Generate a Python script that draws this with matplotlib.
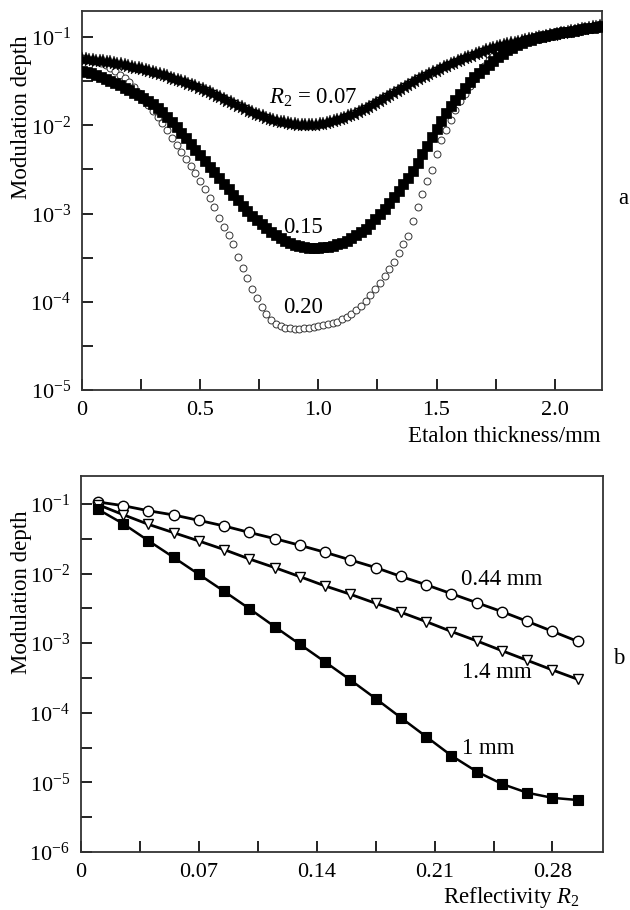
import numpy as np
import matplotlib
matplotlib.use("Agg")
import matplotlib.pyplot as plt
from matplotlib.ticker import FixedLocator, NullFormatter

plt.rcParams['font.family'] = ['Liberation Serif', 'DejaVu Serif']
plt.rcParams['mathtext.fontset'] = 'custom'
plt.rcParams['mathtext.rm'] = 'Liberation Serif'
plt.rcParams['mathtext.it'] = 'Liberation Serif:italic'

# ---------------- Panel a data (log10 of modulation depth) -------------
thickness_mm = np.round(np.arange(0, 2.2001, 0.02), 3)        # grid of R2=0.15 and 0.20 points
thickness_mm_r007 = np.round(np.arange(0, 2.1901, 0.015), 3)  # grid of R2=0.07 points

log_depth_r007 = [
    -1.250, -1.254, -1.258, -1.262, -1.266, -1.271, -1.277, -1.282, -1.288, -1.295,
    -1.302, -1.310, -1.318, -1.327, -1.337, -1.346, -1.356, -1.367, -1.378, -1.389,
    -1.400, -1.411, -1.423, -1.435, -1.447, -1.459, -1.472, -1.485, -1.499, -1.513,
    -1.528, -1.543, -1.559, -1.575, -1.592, -1.609, -1.627, -1.645, -1.663, -1.681,
    -1.700, -1.720, -1.739, -1.759, -1.778, -1.798, -1.817, -1.836, -1.853, -1.870,
    -1.885, -1.900, -1.913, -1.926, -1.938, -1.948, -1.958, -1.967, -1.975, -1.982,
    -1.988, -1.993, -1.996, -1.998, -1.999, -1.997, -1.993, -1.988, -1.981, -1.972,
    -1.962, -1.951, -1.940, -1.929, -1.915, -1.900, -1.884, -1.867, -1.849, -1.830,
    -1.810, -1.788, -1.766, -1.743, -1.721, -1.698, -1.675, -1.653, -1.630, -1.608,
    -1.585, -1.563, -1.540, -1.518, -1.497, -1.476, -1.456, -1.437, -1.418, -1.399,
    -1.380, -1.361, -1.343, -1.325, -1.307, -1.290, -1.273, -1.257, -1.241, -1.225,
    -1.210, -1.195, -1.180, -1.166, -1.152, -1.139, -1.126, -1.114, -1.103, -1.092,
    -1.081, -1.071, -1.062, -1.052, -1.043, -1.035, -1.027, -1.019, -1.011, -1.004,
    -0.996, -0.989, -0.981, -0.974, -0.966, -0.959, -0.951, -0.944, -0.936, -0.929,
    -0.921, -0.914, -0.906, -0.899, -0.891, -0.884, -0.877]

log_depth_r015 = [
    -1.390, -1.400, -1.412, -1.428, -1.448, -1.470, -1.494, -1.519, -1.545, -1.572,
    -1.600, -1.629, -1.659, -1.691, -1.725, -1.760, -1.805, -1.853, -1.907, -1.962,
    -2.020, -2.082, -2.145, -2.210, -2.275, -2.340, -2.404, -2.468, -2.532, -2.596,
    -2.660, -2.724, -2.788, -2.852, -2.916, -2.975, -3.028, -3.077, -3.124, -3.168,
    -3.210, -3.248, -3.282, -3.312, -3.336, -3.355, -3.370, -3.381, -3.388, -3.391,
    -3.390, -3.385, -3.376, -3.364, -3.348, -3.330, -3.306, -3.278, -3.246, -3.210,
    -3.170, -3.120, -3.066, -3.008, -2.946, -2.880, -2.812, -2.742, -2.668, -2.595,
    -2.520, -2.430, -2.330, -2.230, -2.130, -2.040, -1.950, -1.865, -1.785, -1.710,
    -1.640, -1.575, -1.515, -1.458, -1.406, -1.358, -1.312, -1.268, -1.226, -1.188,
    -1.152, -1.120, -1.092, -1.068, -1.048, -1.030, -1.015, -1.002, -0.990, -0.979,
    -0.968, -0.958, -0.948, -0.938, -0.929, -0.920, -0.911, -0.902, -0.893, -0.884,
    -0.875]

log_depth_r020 = [
    -1.240, -1.248, -1.258, -1.272, -1.292, -1.318, -1.350, -1.386, -1.425, -1.467,
    -1.515, -1.570, -1.637, -1.710, -1.775, -1.840, -1.905, -1.975, -2.055, -2.140,
    -2.225, -2.305, -2.380, -2.460, -2.545, -2.630, -2.725, -2.825, -2.930, -3.050,
    -3.150, -3.240, -3.350, -3.490, -3.620, -3.730, -3.860, -3.960, -4.060, -4.140,
    -4.210, -4.255, -4.280, -4.295, -4.302, -4.305, -4.304, -4.301, -4.296, -4.289,
    -4.280, -4.268, -4.255, -4.242, -4.225, -4.200, -4.168, -4.135, -4.095, -4.050,
    -3.990, -3.925, -3.860, -3.785, -3.710, -3.630, -3.545, -3.450, -3.350, -3.250,
    -3.080, -2.930, -2.780, -2.630, -2.510, -2.330, -2.170, -2.050, -1.940, -1.830,
    -1.730, -1.640, -1.550, -1.470, -1.395, -1.325, -1.265, -1.212, -1.165, -1.125,
    -1.092, -1.067, -1.048, -1.032, -1.018, -1.006, -0.995, -0.985, -0.975, -0.965,
    -0.955, -0.946, -0.937, -0.928, -0.919, -0.910, -0.901, -0.892, -0.883, -0.874,
    -0.865]

# ---------------- Panel b data -------------
reflectivity = [0.010, 0.025, 0.040, 0.055, 0.070, 0.085, 0.100, 0.115, 0.130, 0.145,
                0.160, 0.175, 0.190, 0.205, 0.220, 0.235, 0.250, 0.265, 0.280, 0.295]
depth_044mm = [0.107, 0.0946, 0.080, 0.0695, 0.0582, 0.0483, 0.039, 0.0318, 0.0255, 0.0202,
               0.0157, 0.0122, 0.0091, 0.0069, 0.00514, 0.00382, 0.00284, 0.00206, 0.00148, 0.00106]
depth_14mm = [0.098, 0.0703, 0.051, 0.0387, 0.0294, 0.0221, 0.0162, 0.0122, 0.00903, 0.00664,
              0.00504, 0.00374, 0.00278, 0.00204, 0.00147, 0.00108, 0.00078, 0.000567, 0.000412, 0.000303]
depth_1mm = [0.084, 0.0521, 0.0297, 0.0171, 0.00975, 0.00556, 0.00313, 0.00173, 0.000964, 0.000537,
             0.000296, 0.00016, 8.5e-5, 4.54e-5, 2.42e-5, 1.43e-5, 9.5e-6, 7.1e-6, 6.0e-6, 5.58e-6]

xticks_a = [0, 0.5, 1.0, 1.5, 2.0]
xtick_labels_a = ['0', '0.5', '1.0', '1.5', '2.0']
xticks_b = [0, 0.07, 0.14, 0.21, 0.28]
xtick_labels_b = ['0', '0.07', '0.14', '0.21', '0.28']

W, H = 630, 910
fig = plt.figure(figsize=(W / 100, H / 100), dpi=100)

def fr(x0, y0, x1, y1):
    return [x0 / W, 1 - y1 / H, (x1 - x0) / W, (y1 - y0) / H]

ax1 = fig.add_axes(fr(82, 11, 602, 390))
ax2 = fig.add_axes(fr(81, 476, 603, 852))

TICK_FS = 16
LAB_FS = 16.5

def style(ax, yexp_lo, yexp_hi):
    ax.set_yscale('log')
    majors = [10.0 ** e for e in range(yexp_lo, yexp_hi + 1)]
    minors = [10.0 ** (e + 0.5) for e in range(yexp_lo, yexp_hi)]
    ax.yaxis.set_major_locator(FixedLocator(majors))
    ax.yaxis.set_minor_locator(FixedLocator(minors))
    ax.yaxis.set_minor_formatter(NullFormatter())
    ax.set_yticklabels([r'$10^{%d}$' % e for e in range(yexp_lo, yexp_hi + 1)])
    ax.tick_params(which='both', direction='in', length=8, width=1.4,
                   top=False, right=False, labelsize=TICK_FS, pad=8, color='#222222')
    for s in ax.spines.values():
        s.set_linewidth(1.3)
        s.set_color('#333333')

# ---- panel a ----
ax1.plot(thickness_mm, 10.0 ** np.array(log_depth_r020), linestyle='none', marker='o', ms=5.0,
         mfc='white', mec='#333333', mew=0.7, zorder=2)
ax1.plot(thickness_mm, 10.0 ** np.array(log_depth_r015), linestyle='none', marker='s', ms=7.0,
         mfc='black', mec='black', mew=0.5, zorder=3)
ax1.plot(thickness_mm_r007, 10.0 ** np.array(log_depth_r007), linestyle='none', marker='*', ms=10,
         mfc='black', mec='black', mew=0.3, zorder=4)
ax1.set_xlim(0, 2.2)
ax1.set_ylim(1e-5, 10 ** -0.705)
style(ax1, -5, -1)
ax1.set_xticks(xticks_a)
ax1.set_xticklabels(xtick_labels_a)
ax1.xaxis.set_minor_locator(FixedLocator([0.25, 0.75, 1.25, 1.75]))

ax1.text(0.79, 10 ** -1.69, r'$R_2$ = 0.07', fontsize=LAB_FS, ha='left', va='center')
ax1.text(0.85, 10 ** -3.16, '0.15', fontsize=LAB_FS, ha='left', va='center')
ax1.text(0.85, 10 ** -4.06, '0.20', fontsize=LAB_FS, ha='left', va='center')

# ---- panel b ----
ax2.plot(reflectivity, depth_044mm, color='black', lw=2.0, marker='o', ms=7.5,
         mfc='white', mec='black', mew=1.0)
ax2.plot(reflectivity, depth_14mm, color='black', lw=2.0, marker='v', ms=7.5,
         mfc='white', mec='black', mew=1.0)
ax2.plot(reflectivity, depth_1mm, color='black', lw=1.8, marker='s', ms=7,
         mfc='black', mec='black', mew=0.8)
ax2.set_xlim(0, 0.31)
ax2.set_ylim(1e-6, 10 ** -0.598)
style(ax2, -6, -1)
ax2.set_xticks(xticks_b)
ax2.set_xticklabels(xtick_labels_b)
ax2.xaxis.set_minor_locator(FixedLocator([0.035, 0.105, 0.175, 0.245]))

ax2.text(0.2254, 0.0081, '0.44 mm', fontsize=LAB_FS, ha='left', va='center')
ax2.text(0.226, 3.73e-4, '1.4 mm', fontsize=LAB_FS, ha='left', va='center')
ax2.text(0.226, 3.12e-5, '1 mm', fontsize=LAB_FS, ha='left', va='center')

# ---- figure-level labels ----
fig.text(601 / W, 1 - 436 / H, 'Etalon thickness/mm', fontsize=LAB_FS, ha='right', va='center')
fig.text(580 / W, 1 - 898 / H, r'Reflectivity $R_2$', fontsize=LAB_FS, ha='right', va='center')
fig.text(22 / W, 1 - 117 / H, 'Modulation depth', fontsize=LAB_FS, rotation=90, ha='center', va='center')
fig.text(22 / W, 1 - 592 / H, 'Modulation depth', fontsize=LAB_FS, rotation=90, ha='center', va='center')
fig.text(623 / W, 1 - 199 / H, 'a', fontsize=LAB_FS, ha='center', va='center')
fig.text(619 / W, 1 - 658 / H, 'b', fontsize=LAB_FS, ha='center', va='center')

fig.savefig('out.png', dpi=100, facecolor='white')
